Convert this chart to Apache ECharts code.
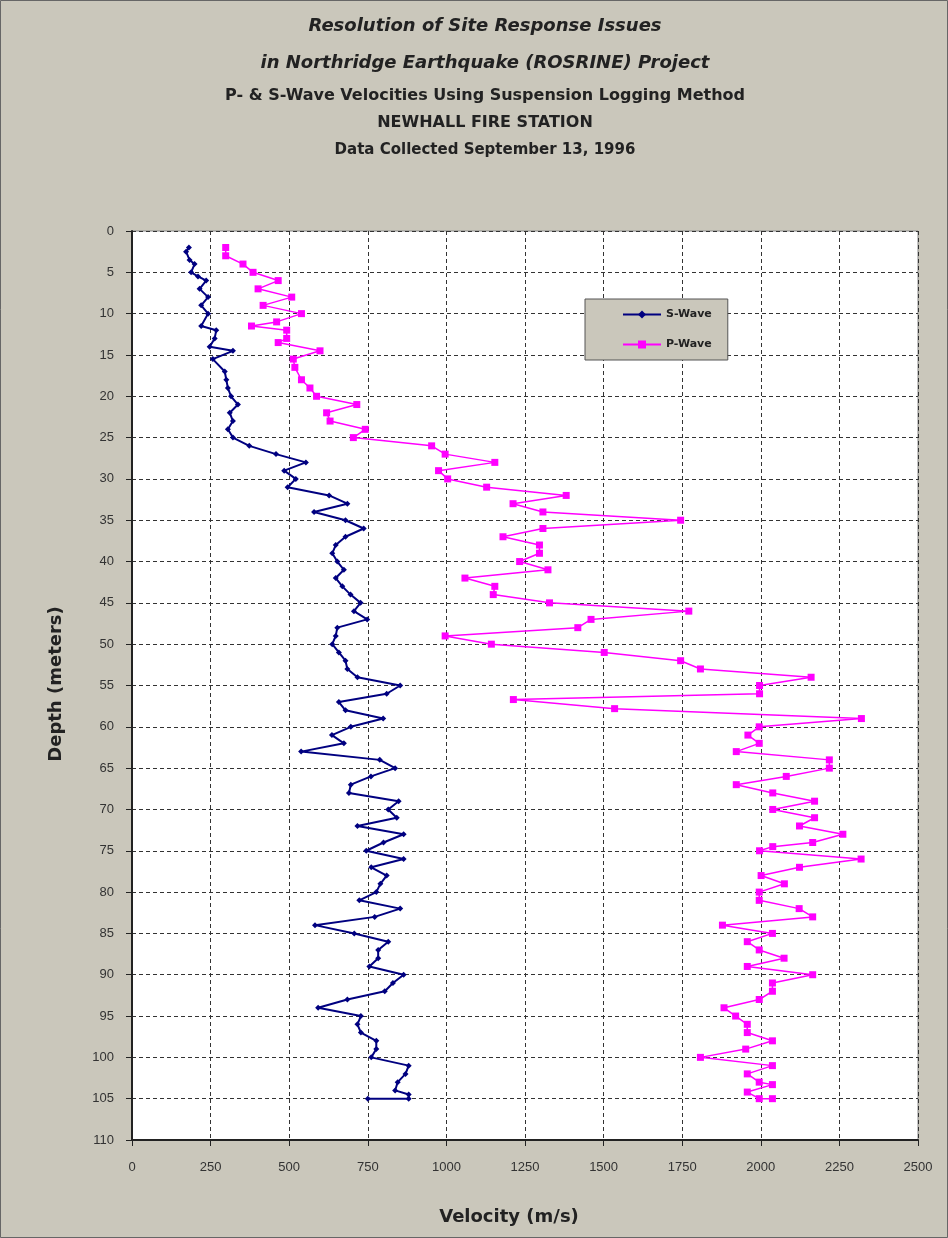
<!DOCTYPE html>
<html>
<head>
<meta charset="utf-8">
<script src="https://cdn.jsdelivr.net/npm/echarts@6/dist/echarts.min.js"></script>
<style>
html,body{margin:0;padding:0;background:#c9c6ba;}
#chart{width:948px;height:1238px;}
</style>
</head>
<body>
<div id="chart"></div>
<script>
// ---- Data ----
const titleLines = [
  "Resolution of Site Response Issues",
  "in Northridge Earthquake (ROSRINE) Project",
  "P- & S-Wave Velocities Using Suspension Logging Method",
  "NEWHALL FIRE STATION",
  "Data Collected September 13, 1996"
];
const xAxisTitle = "Velocity (m/s)";
const yAxisTitle = "Depth (meters)";
const seriesNames = ["S-Wave", "P-Wave"];

const sDepth = [2,2.5,3.5,4,5,5.5,6,7,8,9,10,11.5,12,13,14,14.5,15.5,17,18,19,20,21,22,23,24,25,26,27,28,29,30,31,32,33,34,35,36,37,38,39,40,41,42,43,44,45,46,47,48,49,50,51,52,53,54,55,56,57,58,59,60,61,62,63,64,65,66,67,68,69,70,71,72,73,74,75,76,77,78,79,80,81,82,83,84,85,86,87,88,89,90,91,92,93,94,95,96,97,98,99,100,101,102,103,104,104.5,105,105];
const sVel = [181,172,183,199,188,210,236,215,242,220,242,220,268,263,247,321,257,295,300,305,315,337,311,321,305,321,373,458,553,484,521,495,627,685,579,679,737,679,648,637,653,674,648,669,695,727,706,748,653,648,637,658,679,685,717,853,810,658,679,799,696,636,674,538,788,837,760,696,690,848,815,842,717,864,800,745,864,761,810,790,777,723,853,772,582,707,815,783,783,755,864,830,804,685,592,728,717,728,777,777,761,880,870,845,837,880,880,750];

const pDepth = [2,3,4,5,6,7,8,9,10,11,11.5,12,13,13.5,14.5,15.5,16.5,18,19,20,21,22,23,24,25,26,27,28,29,30,31,32,33,34,35,36,37,38,39,40,41,42,43,44,45,46,47,48,49,50,51,52,53,54,55,56,56.7,57.8,59,60,61,62,63,64,65,66,67,68,69,70,71,72,73,74,74.5,75,76,77,78,79,80,81,82,83,84,85,86,87,88,89,90,91,92,93,94,95,96,97,98,99,100,101,102,103,103.3,104.2,105,105];
const pVel = [298,298,353,385,465,401,508,417,539,460,380,492,492,465,598,513,518,539,566,587,715,619,630,742,704,953,996,1154,975,1004,1128,1381,1212,1307,1745,1307,1180,1296,1296,1233,1323,1059,1154,1149,1328,1771,1460,1418,996,1143,1502,1745,1808,2160,1996,1996,1213,1535,2320,1995,1959,1995,1922,2218,2218,2081,1922,2038,2171,2038,2171,2123,2261,2165,2038,1996,2319,2123,2001,2075,1995,1995,2122,2165,1878,2037,1957,1995,2074,1957,2165,2037,2037,1995,1883,1920,1957,1957,2037,1952,1808,2037,1957,1995,2037,1957,1995,2037];

const xMin = 0, xMax = 2500, xStep = 250;
const yMin = 0, yMax = 110, yStep = 5;

// ---- Chart ----
const chart = echarts.init(document.getElementById('chart'), null, {renderer: 'canvas'});
const sData = sDepth.map((d, i) => [sVel[i], d]);
const pData = pDepth.map((d, i) => [pVel[i], d]);

const titleFont = '"DejaVu Sans", sans-serif';
const titleY = [26, 63, 96, 123, 150];
const titleStyles = [
  {fontSize: 18, fontStyle: 'italic', fontWeight: 'bold'},
  {fontSize: 18, fontStyle: 'italic', fontWeight: 'bold'},
  {fontSize: 16, fontWeight: 'bold'},
  {fontSize: 16, fontWeight: 'bold'},
  {fontSize: 15, fontWeight: 'bold'}
];

const gridLine = {show: true, lineStyle: {color: '#333', width: 1, type: [4, 3]}};

chart.setOption({
  backgroundColor: '#cac7bb',
  animation: false,
  graphic: [
    {type: 'rect', shape: {x: 0.5, y: 0.5, width: 947, height: 1237}, style: {fill: 'none', stroke: '#666', lineWidth: 1}, silent: true},
    ...titleLines.map((t, i) => ({
      type: 'text', x: 485, y: titleY[i],
      style: Object.assign({text: t, fill: '#222', fontFamily: titleFont, align: 'center', verticalAlign: 'middle'}, titleStyles[i]),
      silent: true
    })),
    {type: 'text', x: 509, y: 1217, style: {text: xAxisTitle, fill: '#222', fontFamily: titleFont, fontSize: 18, fontWeight: 'bold', align: 'center', verticalAlign: 'middle'}, silent: true},
    {type: 'text', x: 56, y: 684, rotation: Math.PI / 2, style: {text: yAxisTitle, fill: '#222', fontFamily: titleFont, fontSize: 18, fontWeight: 'bold', align: 'center', verticalAlign: 'middle'}, silent: true}
  ],
  grid: {left: 132, right: 30, top: 231, bottom: 98, show: true, backgroundColor: '#ffffff', borderColor: '#888', borderWidth: 1},
  legend: {
    data: seriesNames,
    orient: 'vertical',
    left: 585, top: 299,
    padding: [10, 16, 10, 37],
    itemGap: 19,
    itemWidth: 38, itemHeight: 10,
    backgroundColor: '#cac7bb',
    borderColor: '#555', borderWidth: 1,
    textStyle: {fontFamily: titleFont, fontSize: 11, color: '#222', fontWeight: 'bold'}
  },
  xAxis: {
    type: 'value', min: xMin, max: xMax, interval: xStep, position: 'bottom',
    axisLine: {show: true, onZero: false, lineStyle: {color: '#222', width: 2}},
    axisTick: {show: true, inside: false, length: 6, lineStyle: {color: '#222'}},
    axisLabel: {fontFamily: '"Liberation Sans", Arial, sans-serif', fontSize: 13, color: '#333', margin: 21, formatter: v => String(v)},
    splitLine: gridLine
  },
  yAxis: {
    type: 'value', inverse: true, min: yMin, max: yMax, interval: yStep,
    axisLine: {show: true, onZero: false, lineStyle: {color: '#222', width: 2}},
    axisTick: {show: true, inside: false, length: 6, lineStyle: {color: '#222'}},
    axisLabel: {fontFamily: '"Liberation Sans", Arial, sans-serif', fontSize: 13, color: '#333', margin: 18, formatter: v => String(v)},
    splitLine: gridLine
  },
  series: [
    {
      name: seriesNames[0], type: 'line', data: sData,
      symbol: 'diamond', symbolSize: 6, showSymbol: true,
      lineStyle: {color: '#000080', width: 2},
      itemStyle: {color: '#000080'}
    },
    {
      name: seriesNames[1], type: 'line', data: pData,
      symbol: 'rect', symbolSize: 7, showSymbol: true,
      lineStyle: {color: '#ff00ff', width: 1.5},
      itemStyle: {color: '#ff00ff'}
    }
  ]
});
</script>
</body>
</html>
